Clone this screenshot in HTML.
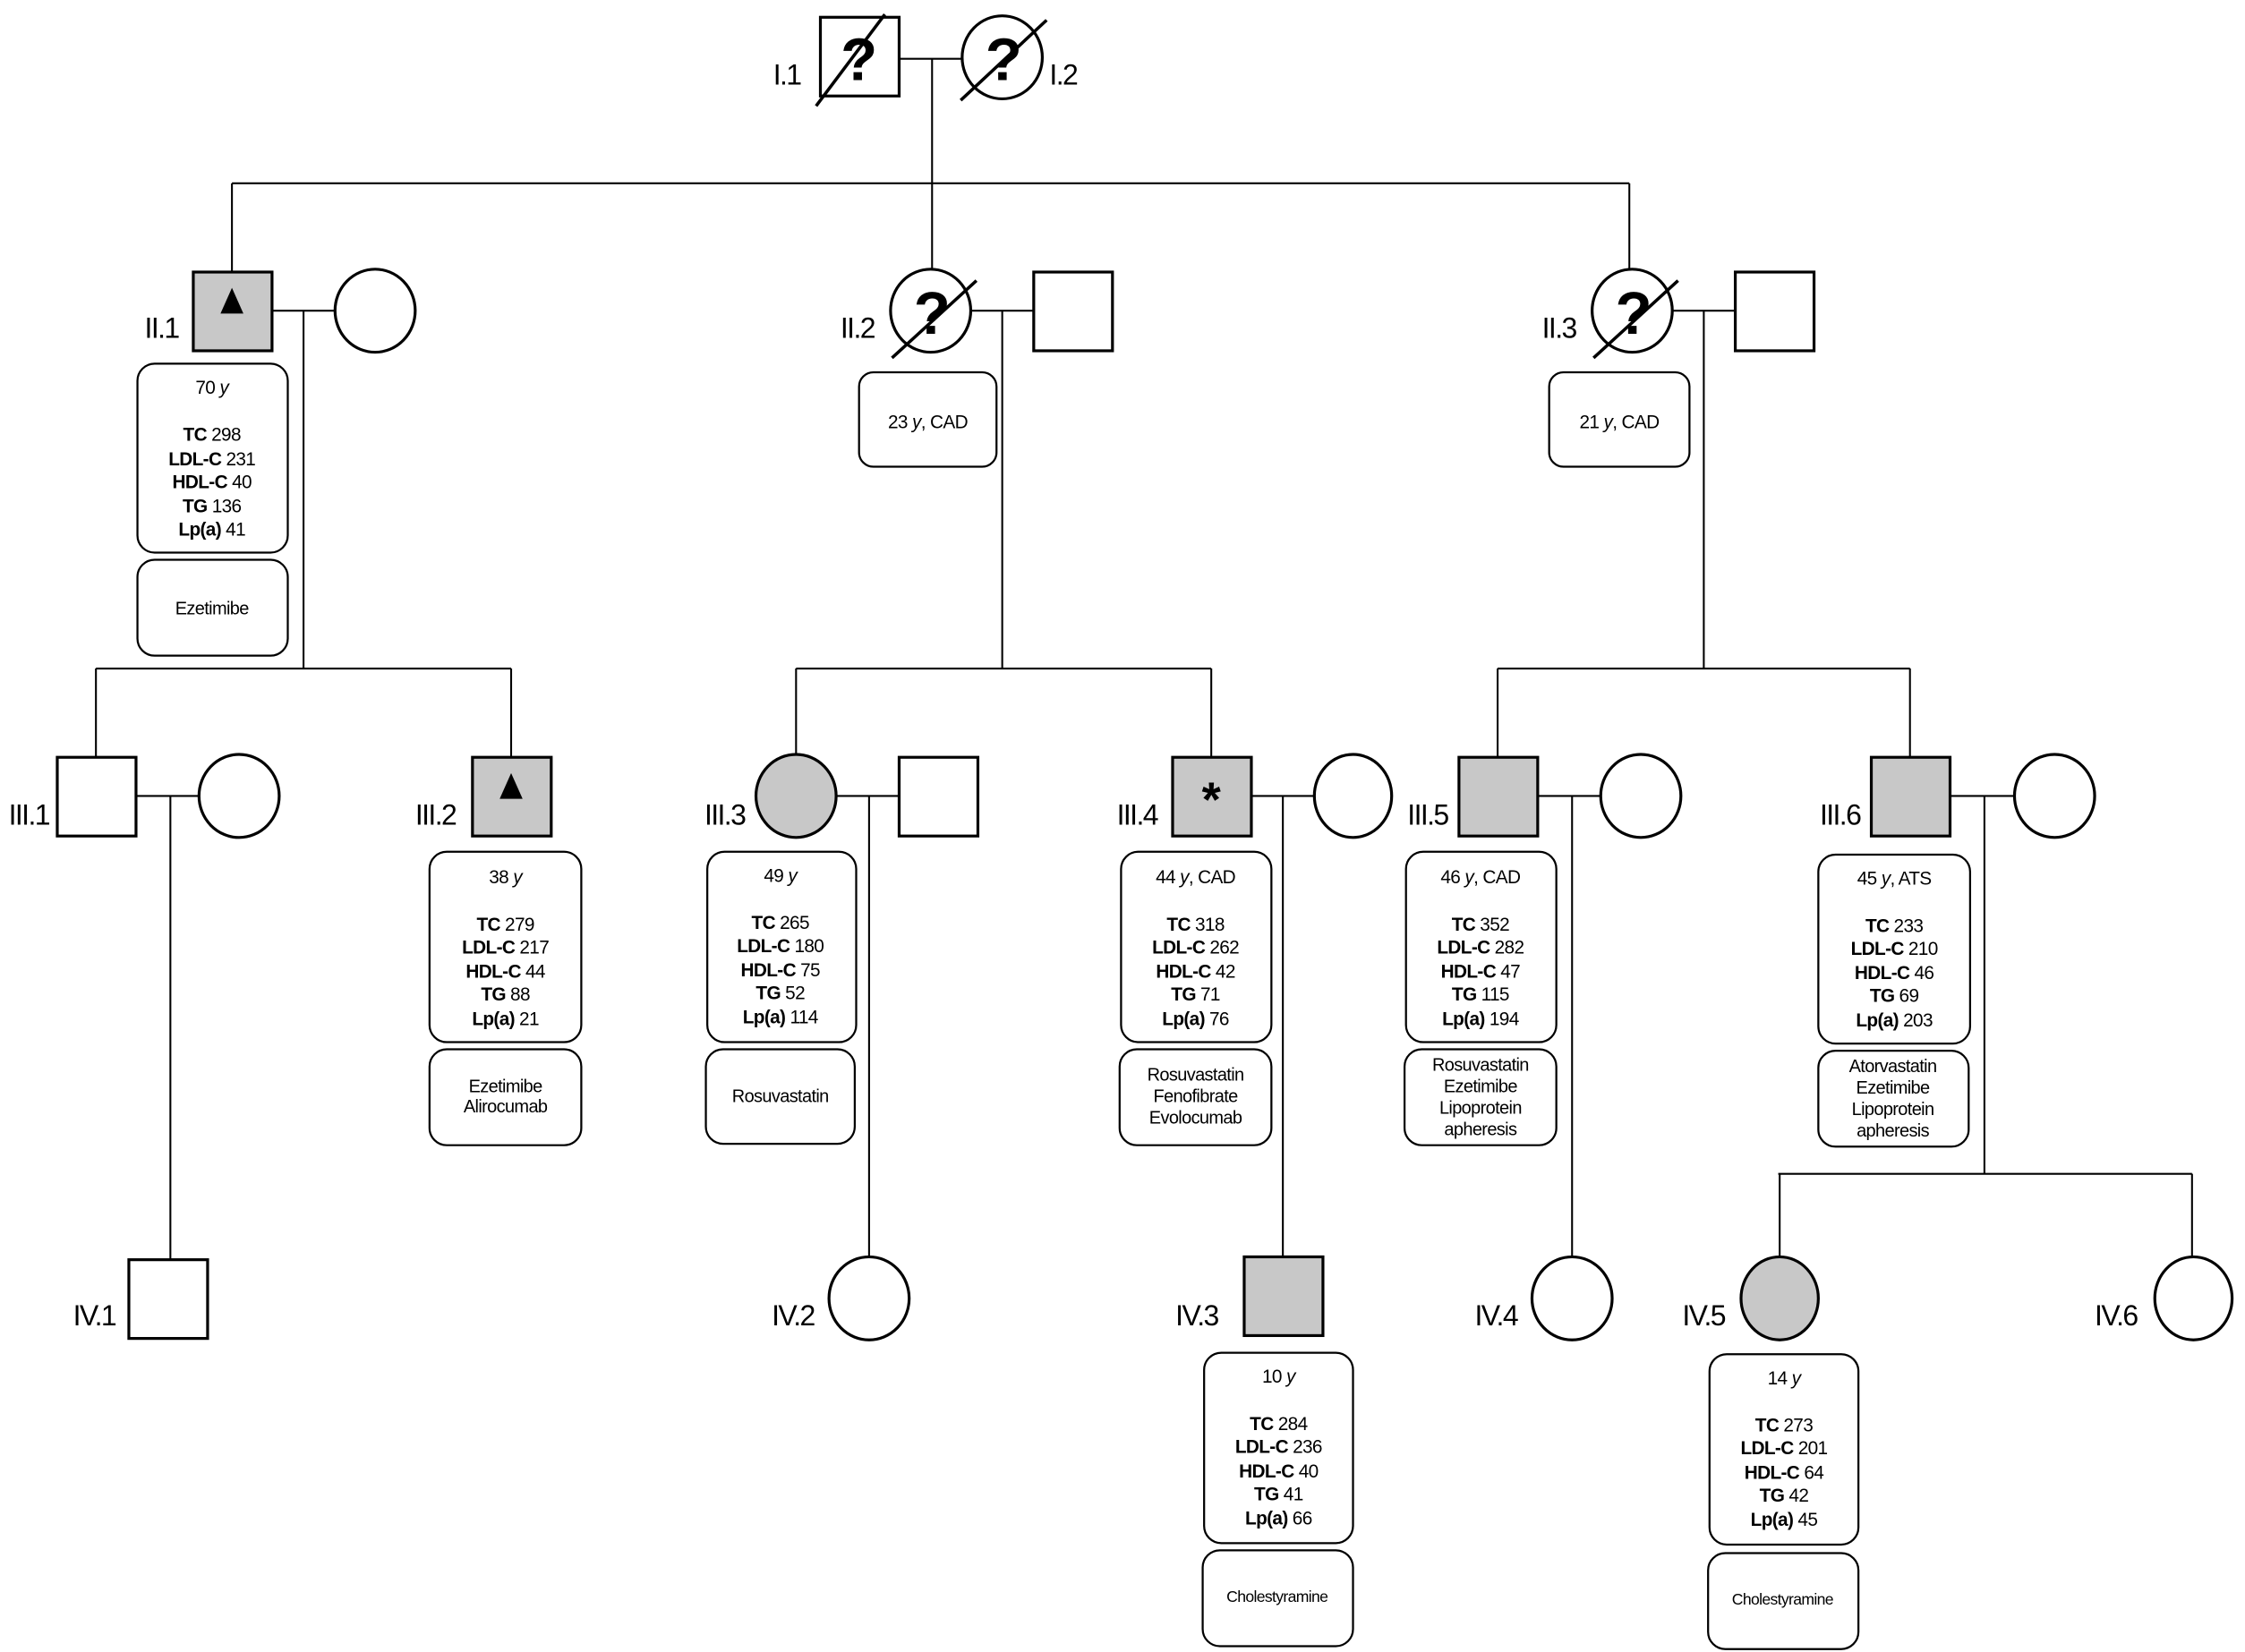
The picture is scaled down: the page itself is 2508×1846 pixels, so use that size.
<!DOCTYPE html>
<html><head><meta charset="utf-8"><style>
html,body{margin:0;padding:0;background:#fff}
svg{display:block}
text{font-family:"Liberation Sans",Arial,sans-serif;fill:#000}
.lbl{font-size:20px;letter-spacing:-1px}
.d{font-size:13px;text-anchor:middle;letter-spacing:-0.4px}
.m{font-size:12.5px;text-anchor:middle;letter-spacing:-0.4px}
.q{font-size:42px;font-weight:bold;text-anchor:middle}
</style></head><body>
<svg width="2508" height="1846" viewBox="0 0 1568 1154" xmlns="http://www.w3.org/2000/svg">
<g stroke="#000" stroke-width="1.3" fill="none">
<!-- gen I -->
<line x1="628" y1="41" x2="672" y2="41"/><line x1="651" y1="41" x2="651" y2="128"/>
<line x1="162" y1="128" x2="1138" y2="128"/>
<line x1="162" y1="128" x2="162" y2="190"/><line x1="651" y1="128" x2="651" y2="189"/><line x1="1138" y1="128" x2="1138" y2="189"/>
<!-- II.1 family -->
<line x1="190" y1="217" x2="234" y2="217"/><line x1="212" y1="217" x2="212" y2="467"/>
<line x1="67" y1="467" x2="357" y2="467"/><line x1="67" y1="467" x2="67" y2="529"/><line x1="357" y1="467" x2="357" y2="529"/>
<line x1="95" y1="556" x2="139" y2="556"/><line x1="119" y1="556" x2="119" y2="880"/>
<!-- II.2 family -->
<line x1="678" y1="217" x2="722" y2="217"/><line x1="700" y1="217" x2="700" y2="467"/>
<line x1="556" y1="467" x2="846" y2="467"/><line x1="556" y1="467" x2="556" y2="528"/><line x1="846" y1="467" x2="846" y2="529"/>
<line x1="584" y1="556" x2="628" y2="556"/><line x1="607" y1="556" x2="607" y2="879"/>
<line x1="874" y1="556" x2="918" y2="556"/><line x1="896" y1="556" x2="896" y2="878"/>
<!-- II.3 family -->
<line x1="1168" y1="217" x2="1212" y2="217"/><line x1="1190" y1="217" x2="1190" y2="467"/>
<line x1="1046" y1="467" x2="1334" y2="467"/><line x1="1046" y1="467" x2="1046" y2="529"/><line x1="1334" y1="467" x2="1334" y2="529"/>
<line x1="1074" y1="556" x2="1118" y2="556"/><line x1="1098" y1="556" x2="1098" y2="879"/>
<line x1="1362" y1="556" x2="1407" y2="556"/><line x1="1386" y1="556" x2="1386" y2="820"/>
<line x1="1242" y1="820" x2="1531" y2="820"/><line x1="1243" y1="820" x2="1243" y2="879"/><line x1="1531" y1="820" x2="1531" y2="879"/>
</g>
<g stroke="#000" stroke-width="2" fill="#fff">
<rect x="573" y="12" width="55" height="55"/>
<ellipse cx="700" cy="40" rx="28" ry="29"/>
<rect x="135" y="190" width="55" height="55" fill="#c8c8c8"/>
<ellipse cx="262" cy="217" rx="28" ry="29"/>
<ellipse cx="650" cy="217" rx="28" ry="29"/>
<rect x="722" y="190" width="55" height="55"/>
<ellipse cx="1140" cy="217" rx="28" ry="29"/>
<rect x="1212" y="190" width="55" height="55"/>
<rect x="40" y="529" width="55" height="55"/>
<ellipse cx="167" cy="556" rx="28" ry="29"/>
<rect x="330" y="529" width="55" height="55" fill="#c8c8c8"/>
<ellipse cx="556" cy="556" rx="28" ry="29" fill="#c8c8c8"/>
<rect x="628" y="529" width="55" height="55"/>
<rect x="819" y="529" width="55" height="55" fill="#c8c8c8"/>
<ellipse cx="945" cy="556" rx="27" ry="29"/>
<rect x="1019" y="529" width="55" height="55" fill="#c8c8c8"/>
<ellipse cx="1146" cy="556" rx="28" ry="29"/>
<rect x="1307" y="529" width="55" height="55" fill="#c8c8c8"/>
<ellipse cx="1435" cy="556" rx="28" ry="29"/>
<rect x="90" y="880" width="55" height="55"/>
<ellipse cx="607" cy="907" rx="28" ry="29"/>
<rect x="869" y="878" width="55" height="55" fill="#c8c8c8"/>
<ellipse cx="1098" cy="907" rx="28" ry="29"/>
<ellipse cx="1243" cy="907" rx="27" ry="29" fill="#c8c8c8"/>
<ellipse cx="1532" cy="907" rx="27" ry="29"/>
</g>
<!-- question marks and slashes -->
<text class="q" x="600" y="56">?</text>
<text class="q" x="701" y="56">?</text>
<text class="q" x="651" y="233">?</text>
<text class="q" x="1141" y="233">?</text>
<g stroke="#000" stroke-width="2.2">
<line x1="570" y1="74" x2="618" y2="10"/>
<line x1="671" y1="70" x2="731" y2="14"/>
<line x1="623" y1="250" x2="682" y2="196"/>
<line x1="1113" y1="250" x2="1172" y2="196"/>
</g>
<polygon points="162,201 154,219 170,219" fill="#000"/>
<polygon points="357,540 349,558 365,558" fill="#000"/>
<text x="846" y="570" font-size="34" font-weight="bold" text-anchor="middle">*</text>
<!-- labels -->
<g class="lbl">
<text x="540" y="59">I.1</text><text x="733" y="59">I.2</text>
<text x="101" y="236">II.1</text><text x="587" y="236">II.2</text><text x="1077" y="236">II.3</text>
<text x="6" y="576">III.1</text><text x="290" y="576">III.2</text><text x="492" y="576">III.3</text>
<text x="780" y="576">III.4</text><text x="983" y="576">III.5</text><text x="1271" y="576">III.6</text>
<text x="51" y="926">IV.1</text><text x="539" y="926">IV.2</text><text x="821" y="926">IV.3</text>
<text x="1030" y="926">IV.4</text><text x="1175" y="926">IV.5</text><text x="1463" y="926">IV.6</text>
</g>
<!-- boxes -->
<g stroke="#000" stroke-width="1.4" fill="#fff">
<rect x="96" y="254" width="105" height="132" rx="12"/><rect x="96" y="391" width="105" height="67" rx="12"/>
<rect x="600" y="260" width="96" height="66" rx="10"/>
<rect x="1082" y="260" width="98" height="66" rx="10"/>
<rect x="300" y="595" width="106" height="133" rx="12"/><rect x="300" y="733" width="106" height="67" rx="12"/>
<rect x="494" y="595" width="104" height="133" rx="12"/><rect x="493" y="733" width="104" height="66" rx="12"/>
<rect x="783" y="595" width="105" height="133" rx="12"/><rect x="782" y="733" width="106" height="67" rx="12"/>
<rect x="982" y="595" width="105" height="133" rx="12"/><rect x="981" y="733" width="106" height="67" rx="12"/>
<rect x="1270" y="597" width="106" height="132" rx="12"/><rect x="1270" y="734" width="105" height="67" rx="12"/>
<rect x="841" y="945" width="104" height="133" rx="12"/><rect x="840" y="1083" width="105" height="67" rx="12"/>
<rect x="1194" y="946" width="104" height="133" rx="12"/><rect x="1193" y="1085" width="105" height="67" rx="12"/>
</g>
<g class="d">
<text x="148" y="275">70 <tspan font-style="italic">y</tspan></text>
<text x="148" y="308"><tspan font-weight="bold">TC</tspan> 298</text>
<text x="148" y="325"><tspan font-weight="bold">LDL-C</tspan>  231</text>
<text x="148" y="341"><tspan font-weight="bold">HDL-C</tspan>  40</text>
<text x="148" y="358"><tspan font-weight="bold">TG</tspan> 136</text>
<text x="148" y="374"><tspan font-weight="bold">Lp(a)</tspan> 41</text>

<text x="648" y="299">23 <tspan font-style="italic">y</tspan>, CAD</text>
<text x="1131" y="299">21 <tspan font-style="italic">y</tspan>, CAD</text>

<text x="353" y="617">38 <tspan font-style="italic">y</tspan></text>
<text x="353" y="650"><tspan font-weight="bold">TC</tspan> 279</text>
<text x="353" y="666"><tspan font-weight="bold">LDL-C</tspan> 217</text>
<text x="353" y="683"><tspan font-weight="bold">HDL-C</tspan>  44</text>
<text x="353" y="699"><tspan font-weight="bold">TG</tspan> 88</text>
<text x="353" y="716"><tspan font-weight="bold">Lp(a)</tspan> 21</text>

<text x="545" y="616">49 <tspan font-style="italic">y</tspan></text>
<text x="545" y="649"><tspan font-weight="bold">TC</tspan> 265</text>
<text x="545" y="665"><tspan font-weight="bold">LDL-C</tspan>  180</text>
<text x="545" y="682"><tspan font-weight="bold">HDL-C</tspan>  75</text>
<text x="545" y="698"><tspan font-weight="bold">TG</tspan> 52</text>
<text x="545" y="715"><tspan font-weight="bold">Lp(a)</tspan> 114</text>

<text x="835" y="617">44 <tspan font-style="italic">y</tspan>, CAD</text>
<text x="835" y="650"><tspan font-weight="bold">TC</tspan> 318</text>
<text x="835" y="666"><tspan font-weight="bold">LDL-C</tspan>  262</text>
<text x="835" y="683"><tspan font-weight="bold">HDL-C</tspan> 42</text>
<text x="835" y="699"><tspan font-weight="bold">TG</tspan> 71</text>
<text x="835" y="716"><tspan font-weight="bold">Lp(a)</tspan>  76</text>

<text x="1034" y="617">46 <tspan font-style="italic">y</tspan>, CAD</text>
<text x="1034" y="650"><tspan font-weight="bold">TC</tspan> 352</text>
<text x="1034" y="666"><tspan font-weight="bold">LDL-C</tspan> 282</text>
<text x="1034" y="683"><tspan font-weight="bold">HDL-C</tspan>  47</text>
<text x="1034" y="699"><tspan font-weight="bold">TG</tspan>  115</text>
<text x="1034" y="716"><tspan font-weight="bold">Lp(a)</tspan> 194</text>

<text x="1323" y="618">45 <tspan font-style="italic">y</tspan>, ATS</text>
<text x="1323" y="651"><tspan font-weight="bold">TC</tspan> 233</text>
<text x="1323" y="667"><tspan font-weight="bold">LDL-C</tspan> 210</text>
<text x="1323" y="684"><tspan font-weight="bold">HDL-C</tspan>  46</text>
<text x="1323" y="700"><tspan font-weight="bold">TG</tspan> 69</text>
<text x="1323" y="717"><tspan font-weight="bold">Lp(a)</tspan> 203</text>

<text x="893" y="966">10 <tspan font-style="italic">y</tspan></text>
<text x="893" y="999"><tspan font-weight="bold">TC</tspan> 284</text>
<text x="893" y="1015"><tspan font-weight="bold">LDL-C</tspan>  236</text>
<text x="893" y="1032"><tspan font-weight="bold">HDL-C</tspan>  40</text>
<text x="893" y="1048"><tspan font-weight="bold">TG</tspan> 41</text>
<text x="893" y="1065"><tspan font-weight="bold">Lp(a)</tspan> 66</text>

<text x="1246" y="967">14 <tspan font-style="italic">y</tspan></text>
<text x="1246" y="1000"><tspan font-weight="bold">TC</tspan> 273</text>
<text x="1246" y="1016"><tspan font-weight="bold">LDL-C</tspan>  201</text>
<text x="1246" y="1033"><tspan font-weight="bold">HDL-C</tspan>  64</text>
<text x="1246" y="1049"><tspan font-weight="bold">TG</tspan> 42</text>
<text x="1246" y="1066"><tspan font-weight="bold">Lp(a)</tspan> 45</text>
</g>
<g class="m">
<text x="148" y="429">Ezetimibe</text>
<text x="353" y="763">Ezetimibe</text><text x="353" y="777">Alirocumab</text>
<text x="545" y="770">Rosuvastatin</text>
<text x="835" y="755">Rosuvastatin</text><text x="835" y="770">Fenofibrate</text><text x="835" y="785">Evolocumab</text>
<text x="1034" y="748">Rosuvastatin</text><text x="1034" y="763">Ezetimibe</text><text x="1034" y="778">Lipoprotein</text><text x="1034" y="793">apheresis</text>
<text x="1322" y="749">Atorvastatin</text><text x="1322" y="764">Ezetimibe</text><text x="1322" y="779">Lipoprotein</text><text x="1322" y="794">apheresis</text>
<text x="892" y="1119" font-size="11">Cholestyramine</text>
<text x="1245" y="1121" font-size="11">Cholestyramine</text>
</g>
</svg>
</body></html>
